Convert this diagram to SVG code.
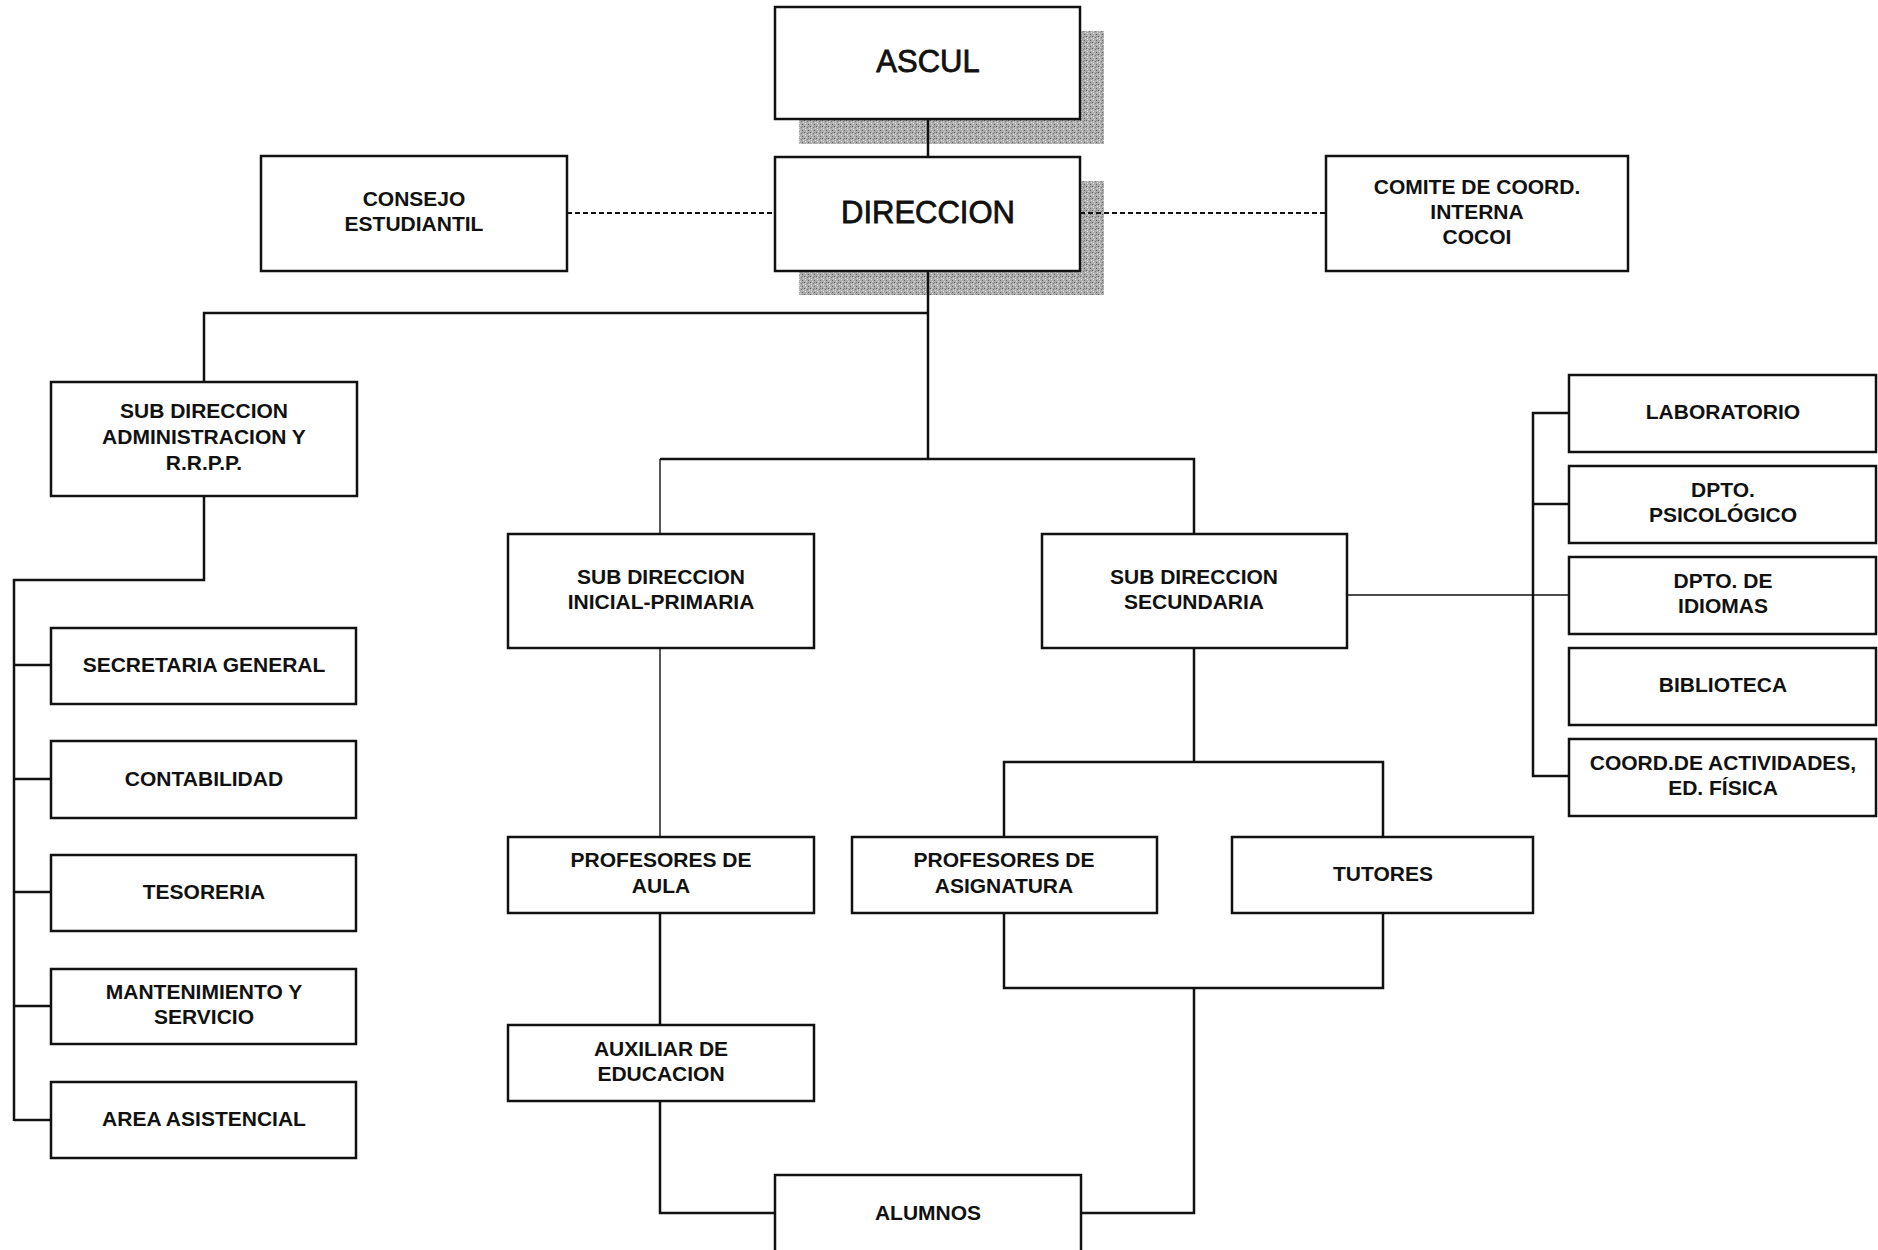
<svg xmlns="http://www.w3.org/2000/svg" width="1878" height="1250" viewBox="0 0 1878 1250">
  <style>
    .box { fill: #ffffff; stroke: #111111; stroke-width: 2.5; }
    .lbl { font-family: "Liberation Sans", Arial, sans-serif; font-weight: bold; font-size: 21px; fill: #111111; text-anchor: middle; dominant-baseline: central; }
    .big { font-family: "Liberation Sans", Arial, sans-serif; font-weight: normal; font-size: 31px; fill: #111111; stroke: #111111; stroke-width: 0.8; text-anchor: middle; dominant-baseline: central; }
    .ln { fill: none; stroke: #111111; stroke-width: 2.5; }
    .thin { fill: none; stroke: #111111; stroke-width: 1.4; }
    .dash { fill: none; stroke: #111111; stroke-width: 1.8; stroke-dasharray: 5 3; }
  </style>
  <defs>
    <!-- speckled grey fill used for the drop shadows of the two top boxes -->
    <pattern id="stipple" width="6" height="6" patternUnits="userSpaceOnUse">
      <rect width="6" height="6" fill="#acacac"/>
      <rect x="0" y="0" width="1" height="1" fill="#5f5f5f"/>
      <rect x="3" y="1" width="1" height="1" fill="#7a7a7a"/>
      <rect x="1" y="3" width="1" height="1" fill="#e6e6e6"/>
      <rect x="4" y="4" width="1" height="1" fill="#666666"/>
      <rect x="2" y="5" width="1" height="1" fill="#d6d6d6"/>
      <rect x="5" y="2" width="1" height="1" fill="#e0e0e0"/>
      <rect x="4" y="0" width="1" height="1" fill="#8a8a8a"/>
      <rect x="1" y="1" width="1" height="1" fill="#cfcfcf"/>
    </pattern>
  </defs>
  <rect width="1878" height="1250" fill="#ffffff"/>

  <!-- shadows -->
  <g id="shadows">
    <rect x="799" y="31" width="305" height="113" fill="url(#stipple)"/>
    <rect x="799" y="181" width="305" height="114" fill="url(#stipple)"/>
  </g>

  <!-- connectors -->
  <g id="connectors">
    <path class="ln" d="M928 119 V157"/>
    <path class="ln" d="M928 271 V459"/>
    <path class="ln" d="M928 313 H204 V382"/>
    <path class="dash" d="M567 213 H775"/>
    <path class="dash" d="M1080 213 H1326"/>
    <!-- administration branch -->
    <path class="ln" d="M204 496 V580 H14 V1121"/>
    <path class="ln" d="M14 665 H51 M14 779 H51 M14 892 H51 M14 1006 H51 M14 1120 H51"/>
    <!-- academic branches -->
    <path class="ln" d="M660 459 H1194 V534"/>
    <path class="thin" d="M660 459 V534"/>
    <path class="thin" d="M660 648 V837"/>
    <path class="ln" d="M660 913 V1025"/>
    <path class="ln" d="M660 1101 V1213 H775"/>
    <path class="ln" d="M1081 1213 H1194 V988"/>
    <path class="ln" d="M1194 648 V762 M1004 837 V762 H1383 V837"/>
    <path class="ln" d="M1004 913 V988 H1383 V913"/>
    <!-- support departments -->
    <path class="thin" d="M1347 595 H1569"/>
    <path class="ln" d="M1569 413 H1533 V776 H1569 M1533 504 H1569"/>
  </g>

  <g id="ascul">
    <rect class="box" x="775" y="7" width="305" height="112"/>
    <text class="big" x="928" y="61">ASCUL</text>
  </g>
  <g id="direccion">
    <rect class="box" x="775" y="157" width="305" height="114"/>
    <text class="big" x="928" y="212">DIRECCION</text>
  </g>
  <g id="consejo">
    <rect class="box" x="261" y="156" width="306" height="115"/>
    <text class="lbl" x="414" y="198">CONSEJO</text>
    <text class="lbl" x="414" y="223">ESTUDIANTIL</text>
  </g>
  <g id="comite">
    <rect class="box" x="1326" y="156" width="302" height="115"/>
    <text class="lbl" x="1477" y="186">COMITE DE COORD.</text>
    <text class="lbl" x="1477" y="211">INTERNA</text>
    <text class="lbl" x="1477" y="236">COCOI</text>
  </g>

  <g id="sub-admin">
    <rect class="box" x="51" y="382" width="306" height="114"/>
    <text class="lbl" x="204" y="410">SUB DIRECCION</text>
    <text class="lbl" x="204" y="436">ADMINISTRACION Y</text>
    <text class="lbl" x="204" y="462">R.R.P.P.</text>
  </g>
  <g id="secretaria">
    <rect class="box" x="51" y="628" width="305" height="76"/>
    <text class="lbl" x="204" y="664">SECRETARIA GENERAL</text>
  </g>
  <g id="contabilidad">
    <rect class="box" x="51" y="741" width="305" height="77"/>
    <text class="lbl" x="204" y="778">CONTABILIDAD</text>
  </g>
  <g id="tesoreria">
    <rect class="box" x="51" y="855" width="305" height="76"/>
    <text class="lbl" x="204" y="891">TESORERIA</text>
  </g>
  <g id="mantenimiento">
    <rect class="box" x="51" y="969" width="305" height="75"/>
    <text class="lbl" x="204" y="991">MANTENIMIENTO Y</text>
    <text class="lbl" x="204" y="1016">SERVICIO</text>
  </g>
  <g id="asistencial">
    <rect class="box" x="51" y="1082" width="305" height="76"/>
    <text class="lbl" x="204" y="1118">AREA ASISTENCIAL</text>
  </g>

  <g id="sub-inicial">
    <rect class="box" x="508" y="534" width="306" height="114"/>
    <text class="lbl" x="661" y="576">SUB DIRECCION</text>
    <text class="lbl" x="661" y="601">INICIAL-PRIMARIA</text>
  </g>
  <g id="sub-secundaria">
    <rect class="box" x="1042" y="534" width="305" height="114"/>
    <text class="lbl" x="1194" y="576">SUB DIRECCION</text>
    <text class="lbl" x="1194" y="601">SECUNDARIA</text>
  </g>
  <g id="prof-aula">
    <rect class="box" x="508" y="837" width="306" height="76"/>
    <text class="lbl" x="661" y="859">PROFESORES DE</text>
    <text class="lbl" x="661" y="885">AULA</text>
  </g>
  <g id="auxiliar">
    <rect class="box" x="508" y="1025" width="306" height="76"/>
    <text class="lbl" x="661" y="1048">AUXILIAR DE</text>
    <text class="lbl" x="661" y="1073">EDUCACION</text>
  </g>
  <g id="prof-asignatura">
    <rect class="box" x="852" y="837" width="305" height="76"/>
    <text class="lbl" x="1004" y="859">PROFESORES DE</text>
    <text class="lbl" x="1004" y="885">ASIGNATURA</text>
  </g>
  <g id="tutores">
    <rect class="box" x="1232" y="837" width="301" height="76"/>
    <text class="lbl" x="1383" y="873">TUTORES</text>
  </g>
  <g id="alumnos">
    <rect class="box" x="775" y="1175" width="306" height="100"/>
    <text class="lbl" x="928" y="1212">ALUMNOS</text>
  </g>

  <g id="laboratorio">
    <rect class="box" x="1569" y="375" width="307" height="77"/>
    <text class="lbl" x="1723" y="411">LABORATORIO</text>
  </g>
  <g id="psicologico">
    <rect class="box" x="1569" y="466" width="307" height="77"/>
    <text class="lbl" x="1723" y="489">DPTO.</text>
    <text class="lbl" x="1723" y="514">PSICOLÓGICO</text>
  </g>
  <g id="idiomas">
    <rect class="box" x="1569" y="557" width="307" height="77"/>
    <text class="lbl" x="1723" y="580">DPTO. DE</text>
    <text class="lbl" x="1723" y="605">IDIOMAS</text>
  </g>
  <g id="biblioteca">
    <rect class="box" x="1569" y="648" width="307" height="77"/>
    <text class="lbl" x="1723" y="684">BIBLIOTECA</text>
  </g>
  <g id="coord-actividades">
    <rect class="box" x="1569" y="739" width="307" height="77"/>
    <text class="lbl" x="1723" y="762">COORD.DE ACTIVIDADES,</text>
    <text class="lbl" x="1723" y="787">ED. FÍSICA</text>
  </g>
</svg>
